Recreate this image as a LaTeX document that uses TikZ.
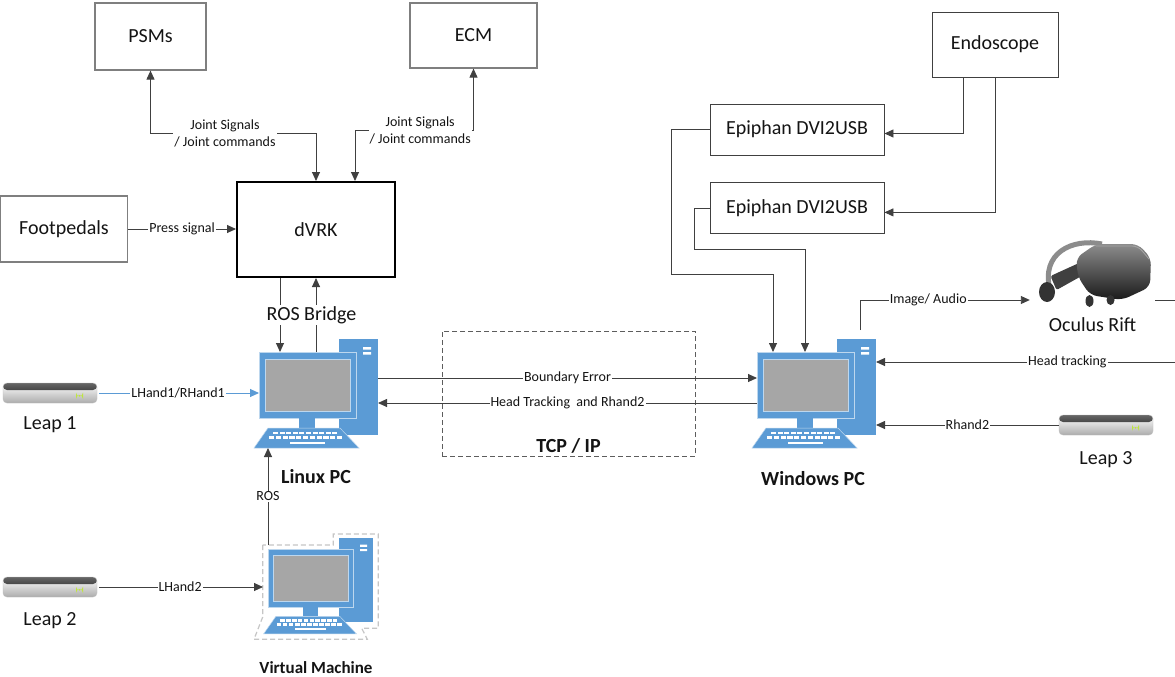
\documentclass[tikz,border=0pt]{standalone}
\usepackage{fontspec}
\setmainfont{Carlito}
\usepackage{tikz}
\usetikzlibrary{shapes,arrows,arrows.meta,calc}
\usetikzlibrary{positioning}

\definecolor{clrLine}{RGB}{64,64,64}
\definecolor{clrBox}{RGB}{127,127,127}
\definecolor{clrText}{RGB}{20,20,20}
\definecolor{pcblue}{RGB}{91,155,213}
\definecolor{pcscreen}{RGB}{166,166,166}
\definecolor{pcedge}{RGB}{189,215,238}
\definecolor{ledgreen}{RGB}{190,230,60}

\tikzstyle{box_style0}=[draw, inner sep=0pt, anchor=center, text centered, fill=white, text=clrText]
\tikzstyle{hw_box}=[box_style0, draw=clrBox, line width=1.2pt, font=\fontsize{20}{24}\selectfont]
\tikzstyle{io_box}=[box_style0, draw=clrLine, line width=0.9pt, font=\fontsize{20}{24}\selectfont]
\tikzstyle{main_box}=[box_style0, draw=black, line width=2pt, font=\fontsize{20}{24}\selectfont]
\tikzstyle{dev_label}=[inner sep=1pt, text=clrText, font=\fontsize{20}{24}\selectfont]
\tikzstyle{pc_label}=[dev_label, font=\fontsize{20}{24}\selectfont\bfseries]
\tikzstyle{sig_label}=[fill=white, inner sep=1pt, text=clrText, font=\fontsize{14}{17}\selectfont]
\tikzstyle{myarrow}=[->, >={Triangle[length=9pt,width=8pt]}, line width=0.9pt, draw=clrLine]
\tikzstyle{twoway}=[myarrow, <->]
\tikzstyle{line}=[line width=0.9pt, draw=clrLine]
\tikzstyle{pc_part}=[fill=pcblue, inner sep=0pt, outer sep=0pt]
\tikzstyle{leap_box}=[rounded corners=4pt, minimum width=94pt, minimum height=20pt, inner sep=0pt,
  top color=white, bottom color=gray!65, draw=gray!50, line width=0.4pt,
  path picture={\shade[top color=black!60, bottom color=black!95] (path picture bounding box.north west) rectangle ([yshift=-7pt]path picture bounding box.north east);
    \fill[ledgreen] ([xshift=-21pt,yshift=-12pt]path picture bounding box.north east) rectangle ++(7pt,-1.6pt);}]

% desktop computer: #1 name, #2 top left corner of the monitor, #3 scale
\newcommand{\pcicon}[3]{%
  \begin{scope}[shift={#2}, scale=#3, transform shape]
    \node[pc_part, minimum width=39pt, minimum height=96pt] (#1tow) at (99.5,35) {};
    \fill[white] (104,-5) rectangle (112,-2.5) (104,0) rectangle (112,2.5);
    \node[pc_part, draw=pcedge, line width=0.8pt, minimum width=97pt, minimum height=66pt] (#1mon) at (48.5,33) {};
    \fill[pcscreen, draw=pcedge, line width=0.8pt] (6,7) rectangle (91,59);
    \fill[pcblue] (40,66) rectangle (56,76);
    \fill[pcblue, draw=pcedge, line width=0.5pt] (9,76) -- (81,76) -- (100,96) -- (-5,96) -- cycle;
    \foreach \k in {0,...,9} \fill[white] ({14+6.6*\k},79.5) rectangle ++(5,2.6);
    \foreach \k in {0,...,10} \fill[white] ({10+6.8*\k},84) rectangle ++(5.2,2.6);
    \fill[white] (31,89.7) rectangle (66,92);
    \coordinate (#1kbd) at (48,96);
  \end{scope}}

\begin{document}
\begin{tikzpicture}[x=1pt, y=-1pt]
		\fill[white] (0,0) rectangle (1175,677);
		\useasboundingbox (0,0) rectangle (1175,677);

		% robot side
		\node[hw_box, minimum width=111pt, minimum height=67pt] (psms) at (150.5,36.5) {PSMs};
		\node[hw_box, minimum width=127pt, minimum height=65pt] (ecm) at (473.5,35.5) {ECM};
		\node[hw_box, minimum width=127pt, minimum height=66pt] (foot) at (64,229) {Footpedals};
		\node[main_box, minimum width=158pt, minimum height=95pt] (dvrk) at (316,229.5) {dVRK};

		\draw[twoway] (psms.south) -- ++(0,63) -| node[sig_label, pos=0.225, align=center]{Joint Signals\\/ Joint commands} (dvrk.north);
		\draw[twoway] ([xshift=39pt]dvrk.north) -- ++(0,-51) -| node[sig_label, pos=0.275, align=center]{Joint Signals\\/ Joint commands} (ecm.south);
		\draw[myarrow] (foot.east) -- node[sig_label]{Press signal} (foot.east -| dvrk.west);

		% computers
		\node[draw=clrLine!85, dash pattern=on 5pt off 3pt, line width=1pt, minimum width=253pt, minimum height=125pt] (tcp) at (568.5,393.5) {};
		\node[pc_label, above=2pt of tcp.south] (tcplbl) {TCP / IP};

		\pcicon{linux}{(259,352)}{1}
		\pcicon{win}{(757,352)}{1}
		\draw[gray!45, line width=1.2pt, dash pattern=on 5pt off 3pt] (262.7,545) -- (262.7,617) -- (254,639.3) -- (367.3,639.3) -- (361.7,628.3)
			-- (378.3,628.3) -- (378.3,534) -- (333.3,534) -- (333.3,545) -- cycle;
		\pcicon{vm}{(268,549)}{0.885}

		\node[pc_label] (linuxlbl) at (316,477) {Linux PC};
		\node[pc_label] (winlbl) at (813,479) {Windows PC};
		\node[pc_label, font=\fontsize{17}{20}\selectfont\bfseries] (vmlbl) at (316,668) {Virtual Machine};

		\coordinate (rb1) at ([xshift=21pt]linuxmon.north west);
		\coordinate (rb2) at ([xshift=57pt]linuxmon.north west);
		\draw[myarrow] (rb1 |- dvrk.south) -- (rb1);
		\draw[myarrow] (rb2) -- (rb2 |- dvrk.south);
		\node[dev_label, fill=white] (rosbr) at (311.5,315) {ROS Bridge};

		\coordinate (beout) at ([yshift=-39pt]linuxtow.north east);
		\draw[myarrow] (beout) -- node[sig_label]{Boundary Error} (beout -| winmon.west);
		\coordinate (htback) at ([yshift=-18pt]winmon.west);
		\draw[myarrow] (htback) -- node[sig_label]{Head Tracking\ \ and Rhand2} (htback -| linuxtow.east);

		\coordinate (vmtop) at ([yshift=4pt]vmmon.north west);
		\draw[myarrow] (vmtop) -- node[sig_label]{ROS} (vmtop |- linuxkbd);

		% leap motion sensors
		\node[leap_box] (leap1) at (50,393) {};
		\node[dev_label, below=12pt of leap1] (leap1lbl) {Leap 1};
		\node[leap_box] (leap2) at (50,587) {};
		\node[dev_label, below=14pt of leap2] (leap2lbl) {Leap 2};
		\node[leap_box] (leap3) at (1106,425) {};
		\node[dev_label, below=15pt of leap3] (leap3lbl) {Leap 3};

		\draw[myarrow, draw=pcblue, shorten <=2pt] (leap1.east) -- node[sig_label]{LHand1/RHand1} (leap1.east -| linuxmon.west);
		\coordinate (vmedge) at ([xshift=-5pt]vmmon.west);
		\draw[myarrow, shorten <=2pt] (leap2.east) -- node[sig_label]{LHand2} (leap2.east -| vmedge);
		\draw[myarrow] (leap3.west) -- node[sig_label]{Rhand2} (leap3.west -| wintow.east);

		% video path
		\node[io_box, minimum width=126pt, minimum height=65pt] (endo) at (995,44.5) {Endoscope};
		\node[io_box, minimum width=174pt, minimum height=51pt] (epi1) at (797,129.5) {Epiphan DVI2USB};
		\node[io_box, minimum width=174pt, minimum height=51pt, below=27pt of epi1] (epi2) {Epiphan DVI2USB};

		\draw[myarrow] ([xshift=-32pt]endo.south) |- ([yshift=-4pt]epi1.east);
		\draw[myarrow] (endo.south) |- ([yshift=-4pt]epi2.east);
		\draw[myarrow] (epi1.west) -- ++(-38.5,0) -- ++(0,145) -| ([xshift=16pt]winmon.north west);
		\draw[myarrow] (epi2.west) -- ++(-15,0) -- ++(0,41) -| ([xshift=48pt]winmon.north west);

		% headset
		\node[minimum width=125pt, minimum height=64pt, inner sep=0pt] (rift) at (1092.5,275) {};
		\begin{scope}[shift={(rift.center)}]
			\draw[black!45, line width=5pt] (-42.5,15) .. controls (-52,-22) and (-20.5,-37) .. (9.5,-31);
			\fill[black!80] (-45.5,17) ellipse (8 and 10);
			\fill[black!75, rounded corners=2pt] (-42,1) -- (-2.5,-17) -- (1.5,-6) -- (-36,15) -- cycle;
			\shade[top color=black!45, bottom color=black!90, rounded corners=7pt] (-16.5,-17) -- (3.5,-31) -- (45.5,-31) -- (58.5,-17)
				-- (57.5,12) -- (29.5,25) -- (-2.5,20) -- (-14.5,2) -- cycle;
			\draw[black!35, line width=0.8pt, rounded corners=6pt] (3.5,-29) -- (45.5,-29) -- (56.5,-16);
			\fill[black!80] (-3,26) ellipse (4 and 6);
			\fill[black!80] (18,25) ellipse (4 and 5);
		\end{scope}
		\node[dev_label, below=9pt of rift] (riftlbl) {Oculus Rift};

		\draw[myarrow, shorten <=9pt] ([xshift=4pt]wintow.north) |- node[sig_label, pos=0.70]{Image/ Audio} ([yshift=-25pt]rift.west);
		\coordinate (riftloop) at (1175,300);
		\draw[line] ([yshift=-25pt]rift.east) -- (riftloop);
		\coordinate (htloop) at (1175,362);
		\draw[myarrow] (htloop) -- node[sig_label, pos=0.36]{Head tracking} (htloop -| wintow.east);

	\end{tikzpicture}
\end{document}
